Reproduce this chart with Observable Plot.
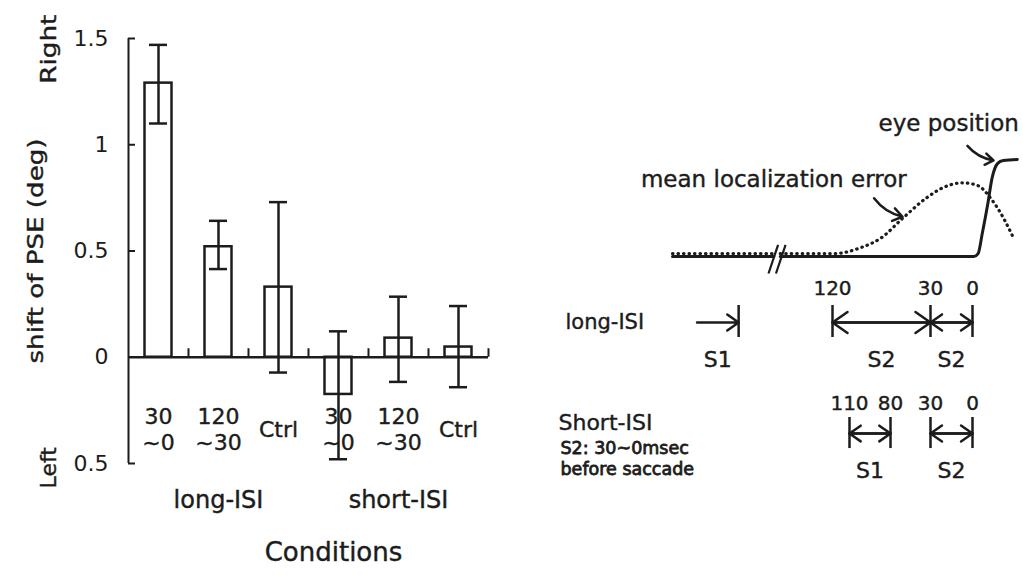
<!DOCTYPE html>
<html>
<head>
<meta charset="utf-8">
<script src="https://cdn.jsdelivr.net/npm/d3@7"></script>
<script src="https://cdn.jsdelivr.net/npm/@observablehq/plot@0.6"></script>
<style>
  html, body { margin: 0; padding: 0; background: #fff; }
  #wrap { position: relative; width: 1023px; height: 577px; overflow: hidden; background: #fff; }
  #left { position: absolute; left: 0; top: 0; }
  #right { position: absolute; left: 540px; top: 0; }
</style>
</head>
<body>
<div id="wrap"><div id="left"></div><div id="right"></div></div>
<script>
// ---------- bar chart data ----------
const conditions = ["long 30~0", "long 120~30", "long Ctrl", "short 30~0", "short 120~30", "short Ctrl"];
const conditionLabels = ["30\n~0", "120\n~30", "Ctrl", "30\n~0", "120\n~30", "Ctrl"];
const groups = ["long-ISI", "short-ISI"];
const groupCenters = ["long 120~30", "short 120~30"];
const pseShift = [1.29, 0.52, 0.33, -0.175, 0.09, 0.048];
const errLow = [1.10, 0.415, -0.072, -0.48, -0.116, -0.141];
const errHigh = [1.47, 0.642, 0.73, 0.122, 0.285, 0.241];
const yTicks = [-0.5, 0, 0.5, 1, 1.5];
const yTickLabels = ["0.5", "0", "0.5", "1", "1.5"];
const yTitle = "shift of PSE (deg)";
const directionLabels = ["Right", "Left"];
const directionValues = [1.45, -0.52];
const xTitle = "Conditions";

// ---------- schematic data (time in ms before saccade onset, amplitude normalised; NaN = axis break) ----------
const eyePosition = [[270, 0], [175, 0], [172, NaN], [169, 0], [-1, 0], [-4, 0.03], [-7, 0.24], [-11, 0.55], [-14, 0.81], [-18, 0.96], [-22, 0.99], [-32, 1.0]];
const localizationError = [[270, 0.03], [175, 0.03], [172, NaN], [169, 0.03], [119, 0.03], [102, 0.09], [87, 0.19], [64, 0.40], [34, 0.61], [21, 0.71], [7, 0.76], [-4, 0.73], [-13, 0.60], [-22, 0.40], [-29, 0.20]];
const breakMarks = [{t1: 180, a1: -0.175, t2: 171, a2: 0.12}, {t1: 173, a1: -0.175, t2: 164, a2: 0.12}];
const annotations = [{text: "mean localization error", t: 175, a: 0.79}, {text: "eye position", t: 17, a: 1.37}];
const annotationArrows = [{t1: 92, a1: 0.60, t2: 65, a2: 0.41}, {t1: 3.6, a1: 1.14, t2: -15, a2: 0.99}];
const longTickLabels = [120, 30, 0];
const shortTickLabels = [110, 80, 30, 0];
const longMarkers = [208, 120, 30, 0];
const shortMarkers = [110, 80, 30, 0];
const longIntervals = [{label: "S1", from: 247, to: 208, single: true}, {label: "S2", from: 120, to: 30}, {label: "S2", from: 30, to: 0}];
const shortIntervals = [{label: "S1", from: 110, to: 80}, {label: "S2", from: 30, to: 0}];

const FONT = "'DejaVu Sans', sans-serif";
const INK = "#1c1c1c";
const heavy = {fill: INK, stroke: INK, strokeWidth: 0.4};

// ---------- left: bar chart ----------
const bars = conditions.map((c, i) => ({cond: c, label: conditionLabels[i], value: pseShift[i], lo: errLow[i], hi: errHigh[i]}));
const yDomain = [-0.5, 1.5];
const LABEL_Y = -0.334, GROUP_Y = -0.673;

const leftChart = Plot.plot({
  width: 540, height: 577,
  marginLeft: 128, marginRight: 52, marginTop: 38, marginBottom: 114,
  style: {fontFamily: FONT, color: INK, background: "transparent", overflow: "visible"},
  x: {type: "band", domain: conditions, padding: 0, axis: null},
  y: {domain: yDomain},
  marks: [
    Plot.ruleX([conditions[0]], {dx: -30, y1: yDomain[0], y2: yDomain[1], strokeWidth: 2}),
    Plot.ruleY(yTicks.filter(d => d !== 0), {insetRight: 353, strokeWidth: 2}),
    Plot.axisY(yTicks, {tickSize: 0, tickPadding: 20, fontSize: 22, tickFormat: d => yTickLabels[yTicks.indexOf(d)], ...heavy}),
    Plot.barY(bars, {x: "cond", y: "value", fill: "white", stroke: INK, strokeWidth: 2.5, insetLeft: 16.5, insetRight: 16.5}),
    Plot.ruleY([0], {strokeWidth: 2.5}),
    Plot.ruleX(conditions, {dx: 30, y1: 0, y2: 0.04, strokeWidth: 2}),
    Plot.ruleX(bars, {x: "cond", y1: "lo", y2: "hi", strokeWidth: 2.5}),
    Plot.tickY(bars, {x: "cond", y: "lo", insetLeft: 21, insetRight: 21, strokeWidth: 2.5}),
    Plot.tickY(bars, {x: "cond", y: "hi", insetLeft: 21, insetRight: 21, strokeWidth: 2.5}),
    Plot.text(bars, {x: "cond", y: LABEL_Y, text: "label", fontSize: 22, lineHeight: 1.18, ...heavy}),
    Plot.text(groups, {x: (d, i) => groupCenters[i], y: GROUP_Y, fontSize: 24, ...heavy}),
    Plot.text([xTitle], {frameAnchor: "bottom", dx: 25, dy: 97, fontSize: 26, ...heavy}),
    Plot.text([yTitle], {frameAnchor: "left", textAnchor: "middle", dx: -93, rotate: -90, fontSize: 22, ...heavy}),
    Plot.text(directionLabels, {y: directionValues, frameAnchor: "left", textAnchor: "middle", dx: -80, rotate: -90, fontSize: 22, ...heavy})
  ]
});
document.getElementById("left").appendChild(leftChart);
d3.select(leftChart).selectAll("text").filter(function () { return this.textContent === yTitle; })
  .attr("textLength", 225).attr("lengthAdjust", "spacingAndGlyphs");
d3.select(leftChart).selectAll("text").filter(function () { return this.textContent === "Right"; })
  .attr("textLength", 69).attr("lengthAdjust", "spacingAndGlyphs");

// ---------- right: timing schematic ----------
const xOpts = {type: "linear", domain: [270, 120, 110, 80, 30, 0, -35], range: [132, 292, 309, 350, 390, 432, 481]};
const yOpts = {type: "linear", domain: [0, 1], range: [256, 159]};
const xs = Plot.scale({x: xOpts});
const mid = (a, b) => xs.invert((xs.apply(a) + xs.apply(b)) / 2);
const ROW = {numLong: -0.33, long: -0.68, longBar: [-0.505, -0.835], sLong: -1.07,
             numShort: -1.515, short: -1.825, shortBar: [-1.66, -1.98], sShort: -2.216,
             shortTitle: -1.72, note1: -1.98, note2: -2.196};
const arrowStyle = {strokeWidth: 2.5, headLength: 11, headAngle: 70, stroke: INK};

const rightChart = Plot.plot({
  width: 483, height: 577,
  marginLeft: 25, marginRight: 0, marginTop: 0, marginBottom: 0,
  style: {fontFamily: FONT, color: INK, background: "transparent", overflow: "visible"},
  x: {...xOpts, axis: null},
  y: {...yOpts, axis: null},
  marks: [
    Plot.line(localizationError, {x: d => d[0], y: d => d[1], stroke: INK, strokeWidth: 3.2, strokeDasharray: "0.5,5", strokeLinecap: "round", curve: "monotone-x"}),
    Plot.line(eyePosition, {x: d => d[0], y: d => d[1], stroke: INK, strokeWidth: 3, curve: "monotone-x"}),
    Plot.link(breakMarks, {x1: "t1", y1: "a1", x2: "t2", y2: "a2", stroke: INK, strokeWidth: 2.2}),
    Plot.text(annotations, {x: "t", y: "a", text: "text", fontSize: 23, ...heavy}),
    Plot.arrow(annotationArrows, {x1: "t1", y1: "a1", x2: "t2", y2: "a2", bend: -20, ...arrowStyle, headLength: 12}),
    // long-ISI row
    Plot.text(longTickLabels, {x: d => d, y: ROW.numLong, text: d => String(d), fontSize: 20, ...heavy}),
    Plot.ruleX(longMarkers, {x: d => d, y1: ROW.longBar[0], y2: ROW.longBar[1], strokeWidth: 2.5}),
    Plot.arrow(longIntervals, {x1: "from", x2: "to", y1: ROW.long, y2: ROW.long, ...arrowStyle}),
    Plot.arrow(longIntervals.filter(d => !d.single), {x1: "to", x2: "from", y1: ROW.long, y2: ROW.long, ...arrowStyle}),
    Plot.text(longIntervals, {x: d => mid(d.from, d.to), y: ROW.sLong, text: "label", fontSize: 22, ...heavy}),
    Plot.text(["long-ISI"], {frameAnchor: "left", y: [ROW.long], textAnchor: "start", fontSize: 21, ...heavy}),
    // short-ISI row
    Plot.text(shortTickLabels, {x: d => d, y: ROW.numShort, text: d => String(d), fontSize: 20, ...heavy}),
    Plot.ruleX(shortMarkers, {x: d => d, y1: ROW.shortBar[0], y2: ROW.shortBar[1], strokeWidth: 2.5}),
    Plot.arrow(shortIntervals, {x1: "from", x2: "to", y1: ROW.short, y2: ROW.short, ...arrowStyle}),
    Plot.arrow(shortIntervals, {x1: "to", x2: "from", y1: ROW.short, y2: ROW.short, ...arrowStyle}),
    Plot.text(shortIntervals, {x: d => mid(d.from, d.to), y: ROW.sShort, text: "label", fontSize: 22, ...heavy}),
    Plot.text(["Short-ISI"], {frameAnchor: "left", y: [ROW.shortTitle], dx: -7, textAnchor: "start", fontSize: 22, ...heavy}),
    Plot.text(["S2: 30~0msec", "before saccade"], {frameAnchor: "left", y: [ROW.note1, ROW.note2], dx: -5, textAnchor: "start", fontSize: 17.5, fill: INK, stroke: INK, strokeWidth: 0.8})
  ]
});
document.getElementById("right").appendChild(rightChart);
</script>
</body>
</html>
